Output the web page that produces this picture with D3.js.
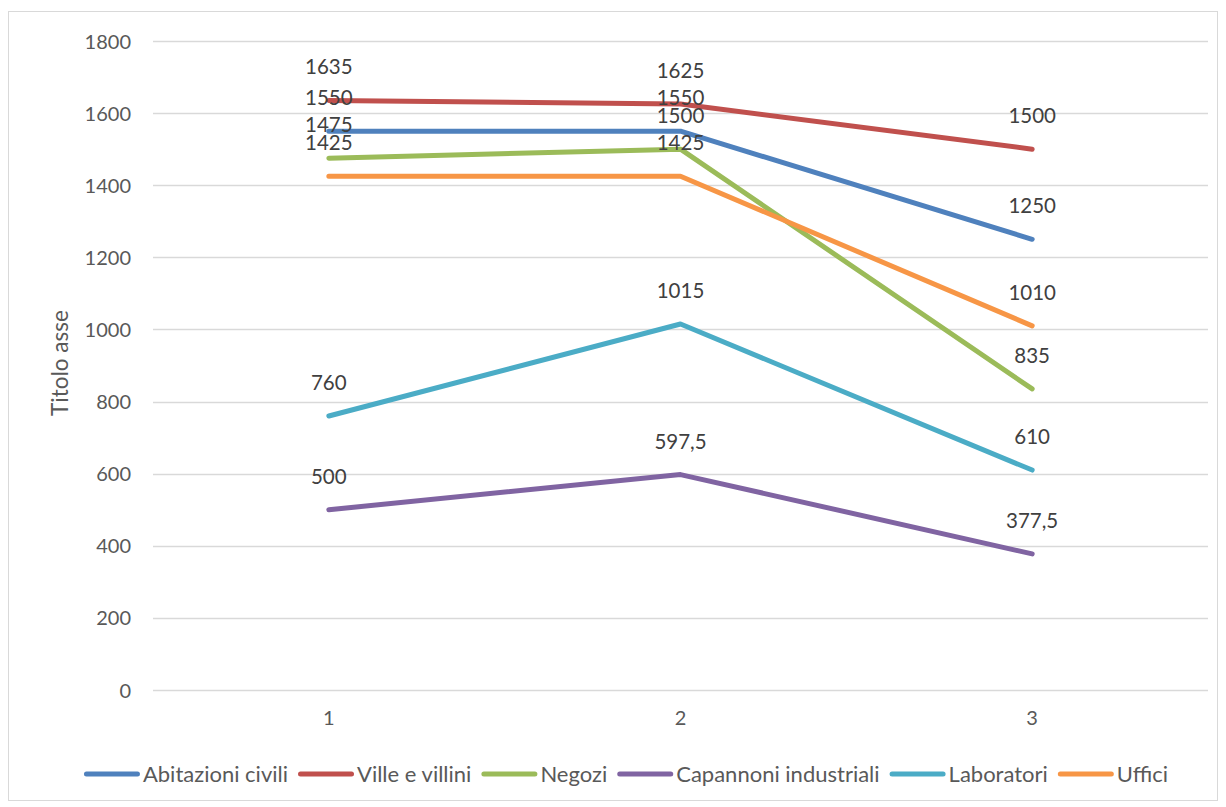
<!DOCTYPE html>
<head>
<meta charset="utf-8">
<script src="https://d3js.org/d3.v7.min.js"></script>
<style>
    body { margin: 0; background: #fff; }
    text { font-family: Lato, "Noto Sans", sans-serif; }
</style>
</head>
<body>
<div id="container"></div>
<script>
    // dati
    var categories = ["1", "2", "3"];
    var seriesNames = ["Abitazioni civili", "Ville e villini", "Negozi", "Capannoni industriali", "Laboratori", "Uffici"];
    var seriesColors = ["#4F81BD", "#C0504D", "#9BBB59", "#8064A2", "#4BACC6", "#F79646"];
    var abitazioni = [1550, 1550, 1250];
    var ville = [1635, 1625, 1500];
    var negozi = [1475, 1500, 835];
    var capannoni = [500, 597.5, 377.5];
    var laboratori = [760, 1015, 610];
    var uffici = [1425, 1425, 1010];
    var yTicks = [0, 200, 400, 600, 800, 1000, 1200, 1400, 1600, 1800];
    var yTitle = "Titolo asse";

    var allSeries = [abitazioni, ville, negozi, capannoni, laboratori, uffici];

    var width = 1226, height = 807;
    var svg = d3.select("#container").append("svg").attr("width", width).attr("height", height);

    // bordo del grafico
    svg.append("rect").attr("x", 8.5).attr("y", 11.5).attr("width", 1209).attr("height", 789)
        .attr("fill", "#fff").attr("stroke", "#d9d9d9").attr("stroke-width", 1);

    var plot = { left: 153, right: 1208, top: 41, bottom: 690 };

    var x = d3.scaleBand().domain(categories).range([plot.left, plot.right]);
    var y = d3.scaleLinear().domain([0, 1800]).range([plot.bottom, plot.top]);

    // griglia
    svg.append("g").selectAll("line").data(yTicks).enter().append("line")
        .attr("x1", plot.left).attr("x2", plot.right)
        .attr("y1", d => Math.round(y(d)) + 0.5).attr("y2", d => Math.round(y(d)) + 0.5)
        .attr("stroke", "#d9d9d9").attr("stroke-width", 1.3);

    // asse Y
    var yAxis = svg.append("g").attr("transform", "translate(" + (plot.left - 22) + ",0)")
        .call(d3.axisLeft(y).tickValues(yTicks).tickFormat(d3.format("d")).tickSize(0).tickPadding(0));
    yAxis.select(".domain").remove();
    yAxis.selectAll("text").attr("fill", "#595959").style("font-size", "20px")
        .style("font-family", "Lato, 'Noto Sans', sans-serif").attr("dy", "0.35em");

    // asse X
    var xAxis = svg.append("g").attr("transform", "translate(0," + (plot.bottom + 21) + ")")
        .call(d3.axisBottom(x).tickSize(0).tickPadding(0));
    xAxis.select(".domain").remove();
    xAxis.selectAll("text").attr("fill", "#595959").style("font-size", "20px")
        .style("font-family", "Lato, 'Noto Sans', sans-serif").attr("dy", "0.71em");

    // titolo asse
    svg.append("text").text(yTitle)
        .attr("transform", "translate(68," + 363 + ") rotate(-90)")
        .attr("text-anchor", "middle").attr("fill", "#595959").style("font-size", "22.5px");

    var cx = d => x(d) + x.bandwidth() / 2;
    var line = d3.line().x((d, i) => cx(categories[i])).y(d => y(d));

    // linee
    svg.append("g").selectAll("path").data(allSeries).enter().append("path")
        .attr("d", line).attr("fill", "none")
        .attr("stroke", (d, i) => seriesColors[i]).attr("stroke-width", 5)
        .attr("stroke-linecap", "round").attr("stroke-linejoin", "round");

    // etichette dati
    var labels = svg.append("g");
    allSeries.forEach(function(s) {
        s.forEach(function(v, i) {
            labels.append("text").text(String(v).replace(".", ","))
                .attr("x", cx(categories[i])).attr("y", y(v) - 26)
                .attr("text-anchor", "middle").attr("fill", "#404040").style("font-size", "20.5px");
        });
    });

    // legenda
    var legend = svg.append("g");
    var lx = 0;
    seriesNames.forEach(function(name, i) {
        var g = legend.append("g").attr("transform", "translate(" + lx + ",0)");
        g.append("line").attr("x1", 2.5).attr("x2", 53.5).attr("y1", 0).attr("y2", 0)
            .attr("stroke", seriesColors[i]).attr("stroke-width", 5).attr("stroke-linecap", "round");
        var t = g.append("text").text(name).attr("x", 59).attr("dy", "0.35em")
            .attr("fill", "#595959").style("font-size", "22px");
        lx += 59 + t.node().getComputedTextLength() + 10;
    });
    lx -= 10;
    legend.attr("transform", "translate(" + (626 - lx / 2) + ",774)");
</script>
</body>
